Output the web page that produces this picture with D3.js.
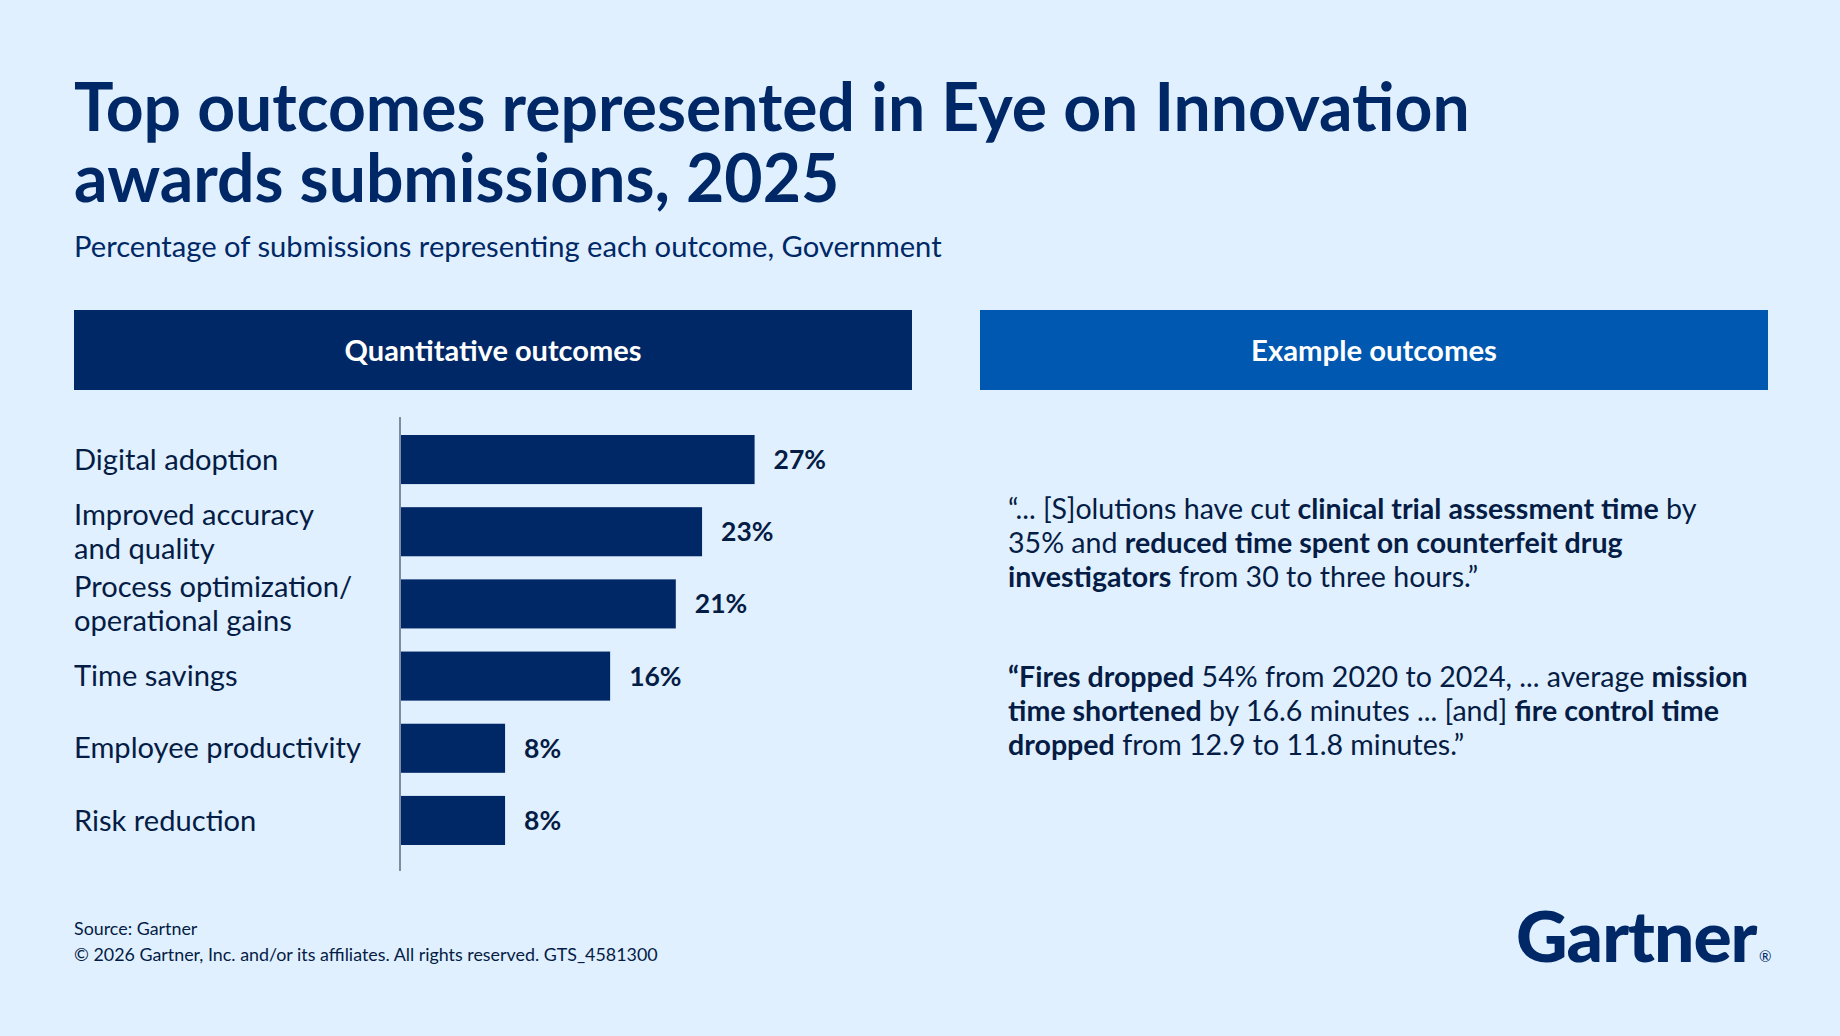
<!DOCTYPE html>
<html>
<head>
<meta charset="utf-8">
<script src="https://cdn.jsdelivr.net/npm/d3@7"></script>
<style>
  html, body { margin: 0; padding: 0; background: #e0f0ff; }
  svg { display: block; font-family: Lato, 'Open Sans', sans-serif; }
</style>
</head>
<body>
<div id="chart"></div>
<script>
const categories = ['Digital adoption', 'Improved accuracy\nand quality', 'Process optimization/\noperational gains', 'Time savings', 'Employee productivity', 'Risk reduction'];
const values = [27, 23, 21, 16, 8, 8];
const titleLines = ['Top outcomes represented in Eye on Innovation', 'awards submissions, 2025'];
const subtitle = 'Percentage of submissions representing each outcome, Government';
const panelTitles = ['Quantitative outcomes', 'Example outcomes'];
// each quote: lines of [text, bold]
const quotes = [
  [
    [['\u201C... [S]olutions have cut ', false], ['clinical trial assessment time', true], [' by', false]],
    [['35% and ', false], ['reduced time spent on counterfeit drug', true]],
    [['investigators', true], [' from 30 to three hours.\u201D', false]]
  ],
  [
    [['\u201CFires dropped', true], [' 54% from 2020 to 2024, ... average ', false], ['mission', true]],
    [['time shortened', true], [' by 16.6 minutes ... [and] ', false], ['fire control time', true]],
    [['dropped', true], [' from 12.9 to 11.8 minutes.\u201D', false]]
  ]
];
const footer = ['Source: Gartner', '\u00A9 2026 Gartner, Inc. and/or its affiliates. All rights reserved. GTS_4581300'];

const W = 1840, H = 1036;
const NAVY = '#002866', BLUE = '#0058b0', INK = '#051c45';

const svg = d3.select('#chart').append('svg').attr('width', W).attr('height', H);
svg.append('rect').attr('width', W).attr('height', H).attr('fill', '#e0f0ff');

// scale font so that a text node reaches the target width
function fitFont(sel, target) {
  const fs = parseFloat(sel.attr('font-size'));
  const w = sel.node().getComputedTextLength();
  sel.attr('font-size', (fs * target / w).toFixed(2));
}

// Title (one text, two lines)
const title = svg.append('text').attr('fill', NAVY).attr('font-weight', 700).attr('font-size', 66);
const tl1 = title.append('tspan').attr('x', 74).attr('y', 131).text(titleLines[0]);
const fs0 = 66 * 1396 / tl1.node().getComputedTextLength();
title.attr('font-size', fs0.toFixed(2));
title.append('tspan').attr('x', 74).attr('y', 202).text(titleLines[1]);

const sub = svg.append('text').attr('x', 74).attr('y', 257).attr('font-size', 26).attr('fill', NAVY).text(subtitle);
fitFont(sub, 868);

// Panel headers
const panels = [{ x0: 74, x1: 912, fill: NAVY, w: 297 }, { x0: 980, x1: 1768, fill: BLUE, w: 246 }];
panels.forEach((p, i) => {
  svg.append('rect').attr('x', p.x0).attr('y', 310).attr('width', p.x1 - p.x0).attr('height', 80).attr('fill', p.fill);
  const t = svg.append('text').attr('x', (p.x0 + p.x1) / 2).attr('y', 361).attr('text-anchor', 'middle')
    .attr('fill', '#fff').attr('font-weight', 700).attr('font-size', 26).text(panelTitles[i]);
  fitFont(t, p.w);
});

// Bar chart
const x = d3.scaleLinear().domain([0, 30]).range([400, 794]);
const y = d3.scaleBand().domain(categories).range([435, 845]).paddingInner(0.32).paddingOuter(0);

svg.append('line').attr('x1', x(0)).attr('x2', x(0)).attr('y1', 417).attr('y2', 871)
  .attr('stroke', '#5b6b85').attr('stroke-width', 1.5);

svg.append('g').selectAll('rect').data(categories).enter().append('rect')
  .attr('x', x(0) + 1).attr('y', (d) => y(d))
  .attr('width', (d, i) => x(values[i]) - x(0) - 1).attr('height', y.bandwidth())
  .attr('fill', NAVY);

const labelSize = (() => {
  const probe = svg.append('text').attr('font-size', 26).text('Employee productivity');
  fitFont(probe, 287);
  const s = +probe.attr('font-size');
  probe.remove();
  return s;
})();

const labels = svg.append('g').attr('fill', INK).attr('font-size', labelSize);
categories.forEach((c) => {
  const lines = c.split('\n');
  const cy = y(c) + y.bandwidth() / 2;
  const lh = 34;
  const t = labels.append('text');
  lines.forEach((ln, j) => {
    t.append('tspan').attr('x', 74)
      .attr('y', cy + (j - (lines.length - 1) / 2) * lh + labelSize * 0.35).text(ln);
  });
});

svg.append('g').attr('fill', INK).attr('font-weight', 700).attr('font-size', 26.5)
  .selectAll('text').data(categories).enter().append('text')
  .attr('x', (d, i) => x(values[i]) + 19)
  .attr('y', (d) => y(d) + y.bandwidth() / 2 + 9.5)
  .text((d, i) => values[i] + '%');

// Quotes
const qTop = [519, 687];
const qg = svg.append('g').attr('fill', INK);
quotes.forEach((q, qi) => {
  q.forEach((line, li) => {
    const t = qg.append('text').attr('x', 1008).attr('y', qTop[qi] + li * 34).attr('font-size', 26);
    line.forEach(([s, b]) => t.append('tspan').attr('font-weight', b ? 700 : 400).text(s));
  });
});
const firstQ = qg.select('text');
fitFont(firstQ, 697);
const quoteSize = (+firstQ.attr('font-size') * 0.988).toFixed(2);
qg.selectAll('text').attr('font-size', quoteSize);

// Footer
const f = svg.append('g').attr('fill', INK);
f.append('text').attr('x', 74).attr('y', 935).attr('font-size', 17.5).text(footer[0]);
const f2 = f.append('text').attr('x', 74).attr('y', 961).attr('font-size', 17.5).text(footer[1]);
fitFont(f2, 584);
f.selectAll('text').attr('font-size', f2.attr('font-size'));

// Logo
const logo = svg.append('text').attr('x', 1516).attr('y', 962).attr('font-size', 76)
  .attr('font-weight', 900).attr('fill', NAVY).attr('letter-spacing', -1).text('Gartner');
fitFont(logo, 241);
svg.append('text').attr('x', 1759).attr('y', 962).attr('font-size', 15).attr('fill', NAVY).text('\u00AE');
</script>
</body>
</html>
